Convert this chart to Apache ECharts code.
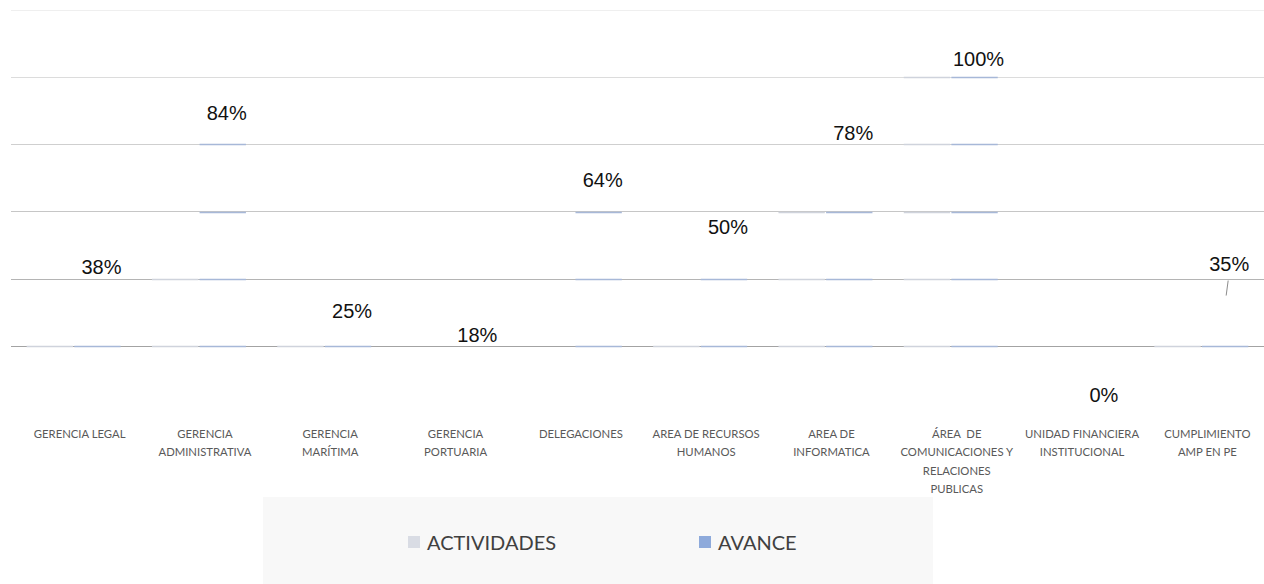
<!DOCTYPE html>
<html><head><meta charset="utf-8">
<script src="https://cdn.jsdelivr.net/npm/echarts@6/dist/echarts.min.js"></script>
<style>html,body{margin:0;padding:0;background:#fff}#c{width:1264px;height:584px}</style>
</head><body><div id="c"></div>
<script>
// ---- data ----
const categories = ['GERENCIA LEGAL','GERENCIA ADMINISTRATIVA','GERENCIA MARÍTIMA','GERENCIA PORTUARIA','DELEGACIONES','AREA DE RECURSOS HUMANOS','AREA DE INFORMATICA','ÁREA  DE COMUNICACIONES Y RELACIONES PUBLICAS','UNIDAD FINANCIERA INSTITUCIONAL','CUMPLIMIENTO AMP EN PE'];
const categoryLabels = ['GERENCIA LEGAL','GERENCIA\nADMINISTRATIVA','GERENCIA\nMARÍTIMA','GERENCIA\nPORTUARIA','DELEGACIONES','AREA DE RECURSOS\nHUMANOS','AREA DE\nINFORMATICA','ÁREA  DE\nCOMUNICACIONES Y\nRELACIONES\nPUBLICAS','UNIDAD FINANCIERA\nINSTITUCIONAL','CUMPLIMIENTO\nAMP EN PE'];
const actividades = [30, 40, 30, 10, 10, 30, 70, 100, 0, 30];
const avance = [38, 84, 25, 18, 64, 50, 78, 100, 0, 35];
const gridTicks = [0, 20, 40, 60, 80, 100];
const seriesNames = ['ACTIVIDADES', 'AVANCE'];

// ---- styling ----
const BAR_MIN = 18.5, BAR_MAX = 118.5;  // depth-shifted scale of the bars vs the back wall
const legendColors = ['#d9dce4', '#8eaadb'];
const tintColors = ['#cfd3dc', '#a7b8d8'];
const offsets = [-0.19, 0.19];
const liftedLabel = {index: 9, dy: -14};   // label moved up with a leader line

function makeRender(si, withLabel) {
  return function (params, api) {
    const idx = api.value(0), val = api.value(1);
    const band = api.size([1, 0])[0];
    const cx = api.coord([idx, 0])[0] + offsets[si] * band;
    const w = band * 0.37;
    const children = [];
    gridTicks.forEach(function (t) {
      const gv = BAR_MIN + t;
      if (val >= gv) {
        const y = Math.round(api.coord([idx, gv])[1]) + 0.5;
        children.push({type: 'line', shape: {x1: cx - w / 2, y1: y, x2: cx + w / 2, y2: y},
          style: {stroke: tintColors[si], lineWidth: 1.3}});
      }
    });
    if (withLabel) {
      const top = api.coord([idx, val])[1];
      let ly = top - 13;
      if (params.dataIndex === liftedLabel.index) {
        ly += liftedLabel.dy;
        children.push({type: 'line', shape: {x1: cx + 3, y1: ly + 17, x2: cx + 1, y2: top + 5},
          style: {stroke: '#8c8c8c', lineWidth: 1}});
      }
      children.push({type: 'text', style: {text: Math.round(val) + '%', x: cx + 4, y: ly,
        align: 'center', verticalAlign: 'middle', fill: '#111',
        font: '20px "Liberation Sans", Arial, sans-serif'}});
    }
    return {type: 'group', children: children};
  };
}

const chart = echarts.init(document.getElementById('c'), null, {renderer: 'svg'});
chart.setOption({
  animation: false,
  backgroundColor: '#ffffff',
  grid: {left: 11, right: 0, top: 10, bottom: 238},
  graphic: [{type: 'rect', left: 263, top: 497, z: 0,
    shape: {width: 670, height: 87}, style: {fill: '#f8f8f8'}}],
  legend: {
    left: 403, top: 525, z: 10,
    itemWidth: 12, itemHeight: 12, itemGap: 132, icon: 'rect',
    textStyle: {fontFamily: 'Lato, "Open Sans", sans-serif', fontSize: 20, lineHeight: 24,
      color: '#404040', width: 140, padding: [0, 0, 0, 2]},
    data: seriesNames
  },
  xAxis: {
    type: 'category', data: categoryLabels,
    axisLine: {show: false}, axisTick: {show: false},
    axisLabel: {interval: 0, margin: 78, fontSize: 11.3, lineHeight: 18.5,
      padding: [0, 0, 0, 12],
      fontFamily: 'Lato, "Open Sans", sans-serif', color: '#595959', align: 'center'}
  },
  yAxis: [{
    type: 'value', min: gridTicks[0], max: gridTicks[gridTicks.length - 1], interval: 20,
    axisLabel: {show: false}, axisLine: {show: false}, axisTick: {show: false},
    splitLine: {show: true, lineStyle: {width: 1, color: ['#a3a3a3', '#b4b4b4', '#c6c6c6', '#cfcfcf', '#dcdcdc', '#efefef']}}
  }, {
    type: 'value', min: BAR_MIN, max: BAR_MAX, show: false, splitLine: {show: false}
  }],
  series: [{
    name: seriesNames[0], type: 'custom', yAxisIndex: 1,
    itemStyle: {color: legendColors[0]},
    renderItem: makeRender(0, false),
    data: actividades.map(function (v, i) { return [i, v]; })
  }, {
    name: seriesNames[1], type: 'custom', yAxisIndex: 1,
    itemStyle: {color: legendColors[1]},
    renderItem: makeRender(1, true),
    data: avance.map(function (v, i) { return [i, v]; })
  }]
});
</script></body></html>
